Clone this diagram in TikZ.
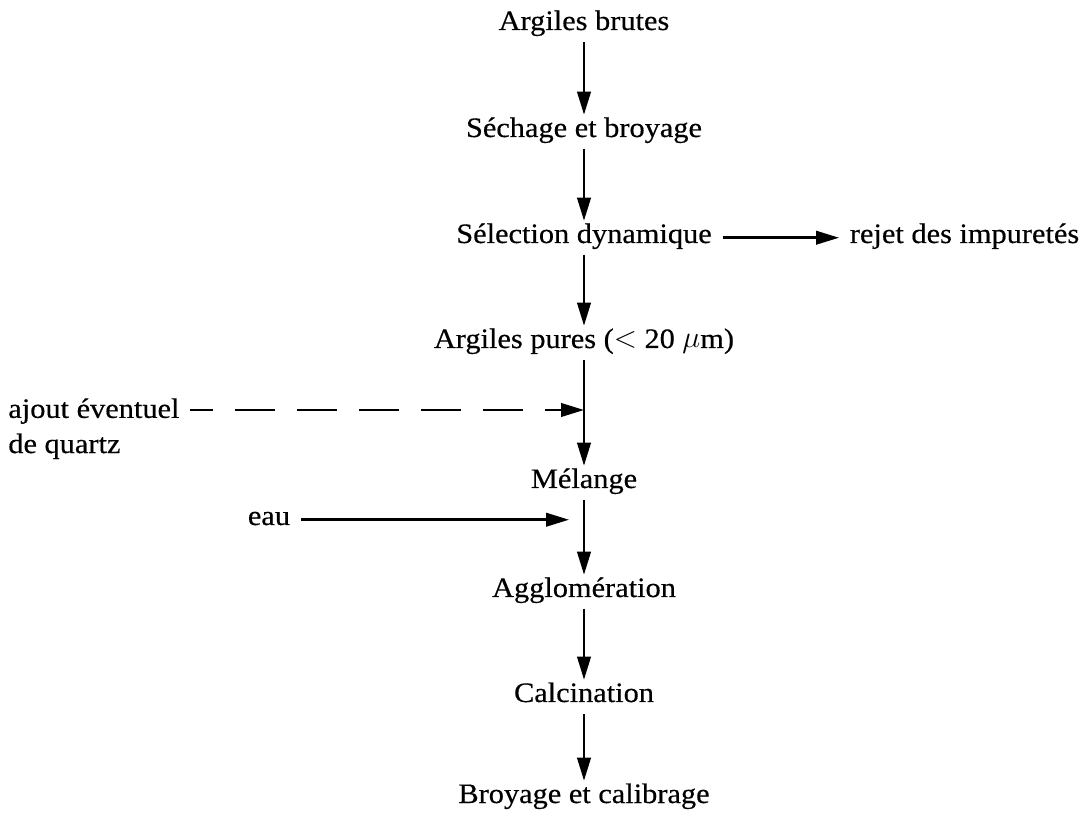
\documentclass[tikz,border=0pt]{standalone}
\usepackage{fontspec}
\setmainfont{Liberation Serif}[FakeStretch=1.08, FakeBold=0.4]
\usetikzlibrary{arrows.meta}
\begin{document}
\begin{tikzpicture}[x=0.02cm, y=-0.02cm,
    font=\fontsize{16}{20}\selectfont,
    stage/.style={anchor=base, inner xsep=6pt, inner ysep=2.5pt, text height=10pt, text depth=4pt},
    flow/.style={line width=1.4pt, -{Triangle[length=0.46cm, width=0.27cm]}}]
    \useasboundingbox (0,0) rectangle (1085,813);

    % main line
    \node[stage] (brutes) at (584,30) {Argiles brutes};
    \node[stage] (sechage) at (584,137) {Séchage et broyage};
    \node[stage] (selection) at (584,243) {Sélection dynamique};
    \node[stage] (pures) at (584,348) {Argiles pures ($<$ 20 $\mu$m)};
    \node[stage] (melange) at (584,488) {Mélange};
    \node[stage] (agglo) at (584,597) {Agglomération};
    \node[stage] (calcin) at (584,702) {Calcination};
    \node[stage] (calib) at (584,803) {Broyage et calibrage};

    \draw[flow] (brutes) -- (sechage);
    \draw[flow] (sechage) -- (selection);
    \draw[flow] (selection) -- (pures);
    \draw[flow] (pures) -- (melange);
    \draw[flow] (melange) -- (agglo);
    \draw[flow] (agglo) -- (calcin);
    \draw[flow] (calcin) -- (calib);

    % side branches
    \node[stage, anchor=base west] (rejet) at (839,243) {rejet des impuretés};
    \draw[flow] (selection) -- (rejet);

    \node[anchor=north west, inner sep=0pt, align=left] (ajout) at (8,398) {ajout éventuel\\de quartz};
    \coordinate (qin) at (pures.south |- 0,410);
    \draw[flow, dash pattern=on 0.8cm off 0.44cm, dash phase=0.34cm] ([xshift=0.2cm]ajout.east |- qin) -- (qin);

    \node[stage, anchor=base west] (eau) at (237,525) {eau};
    \coordinate (wat) at ([xshift=-0.3cm]melange.south);
    \draw[flow] (eau.east) -- (eau.east -| wat);
\end{tikzpicture}
\end{document}
